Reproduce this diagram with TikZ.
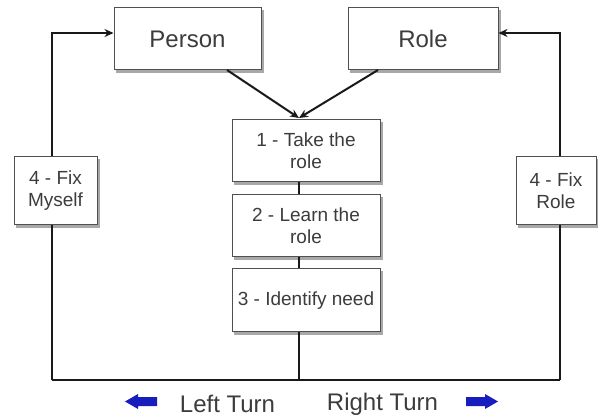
\documentclass[tikz,border=0pt]{standalone}
\usepackage{fontspec}
\setmainfont{Liberation Sans}
\usetikzlibrary{arrows.meta,backgrounds}
\definecolor{txtgray}{HTML}{3C3C3C}
\definecolor{boxline}{HTML}{505050}
\definecolor{turnblue}{RGB}{24,30,190}
\definecolor{shadowgray}{HTML}{A8A8A8}
\tikzset{
  boxnode/.style={draw=boxline, line width=1pt, fill=white, text=txtgray,
    inner sep=0pt, align=center},
  bigbox/.style={boxnode, font=\fontsize{24}{26}\selectfont},
  smallbox/.style={boxnode, font=\fontsize{19}{22}\selectfont},
  boxshadow/.style={fill=shadowgray, draw=none},
  conn/.style={line width=2pt, draw=black!90},
  connarrow/.style={conn, -{Stealth[length=9pt,width=8pt]}},
  turnlabel/.style={text=txtgray, font=\fontsize{24}{26}\selectfont, inner sep=0pt},
  bluearrow/.style={fill=turnblue, draw=none}
}
\begin{document}
\begin{tikzpicture}[x=1pt,y=-1pt]
\useasboundingbox (0,0) rectangle (598,417);
% boxes
\node[bigbox, minimum width=147pt, minimum height=62pt] (person) at (187.5,39) {Person};
\node[bigbox, minimum width=150pt, minimum height=62pt] (role) at (423,39) {Role};
\node[smallbox, minimum width=148pt, minimum height=62pt] (s1) at (306,151) {1 - Take the\\role};
\node[smallbox, minimum width=148pt, minimum height=62pt] (s2) at (306,226) {2 - Learn the\\role};
\node[smallbox, minimum width=148pt, minimum height=63pt] (s3) at (306,300.5) {3 - Identify need};
\node[smallbox, minimum width=83pt, minimum height=68pt] (fixm) at (55.5,191) {4 - Fix\\Myself};
\node[smallbox, minimum width=80pt, minimum height=68pt] (fixr) at (556,191) {4 - Fix\\Role};
% shadows
\begin{scope}[on background layer]
\foreach \b in {person,role,s1,s2,s3,fixm,fixr}
  \fill[boxshadow] ([xshift=2.5pt,yshift=-2.5pt]\b.north west) rectangle ([xshift=2.5pt,yshift=-2.5pt]\b.south east);
\end{scope}
% helper coordinates
\coordinate (top1) at (299,118);
\coordinate (pout) at (227,70);
\coordinate (rout) at (378,70);
\coordinate (mid) at (299,0);
\coordinate (lx) at (52,0);
\coordinate (rx) at (560,0);
\coordinate (bot) at (0,380);
\coordinate (looptop) at (0,33);
% connectors
\draw[conn] (s1.south -| mid) -- (s2.north -| mid);
\draw[conn] (s2.south -| mid) -- (s3.north -| mid);
\draw[conn] (s3.south -| mid) -- (mid |- bot);
\draw[conn] (lx |- bot) -- (rx |- bot);
\draw[conn] (fixm.south -| lx) -- (lx |- bot);
\draw[conn] (fixr.south -| rx) -- (rx |- bot);
\draw[connarrow] (fixm.north -| lx) |- (person.west |- looptop);
\draw[connarrow] (fixr.north -| rx) |- (role.east |- looptop);
\draw[connarrow] (pout) -- (top1);
\draw[connarrow] (rout) -- (top1);
% bottom labels
\node[turnlabel] (lt) at (227.5,404) {Left Turn};
\node[turnlabel] (rt) at (382.5,404) {Right Turn};
\fill[bluearrow] (125,401.5) -- (138,394) -- (138,397) -- (157,397) -- (157,406) -- (138,406) -- (138,409) -- cycle;
\fill[bluearrow] (498,401.5) -- (485,394) -- (485,397) -- (466,397) -- (466,406) -- (485,406) -- (485,409) -- cycle;
\end{tikzpicture}
\end{document}
